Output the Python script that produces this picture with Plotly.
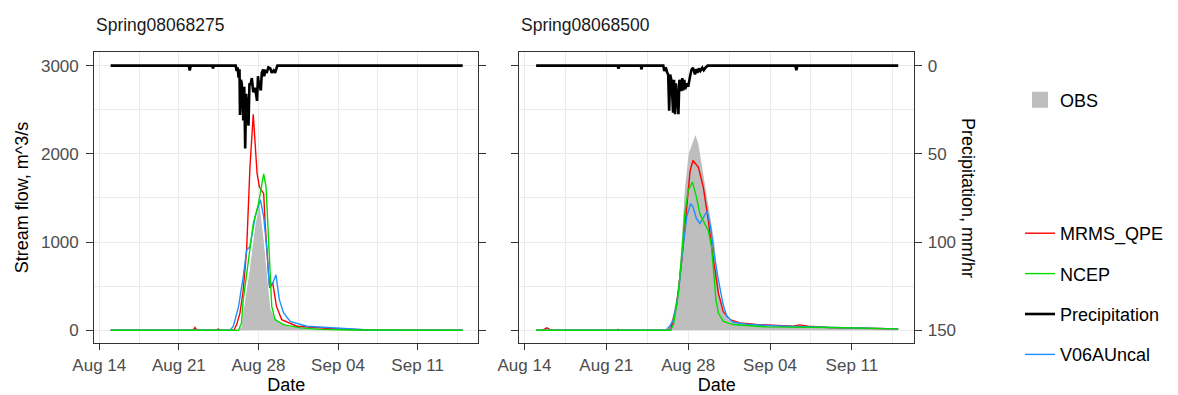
import plotly.graph_objects as go

# ---------------- data: left panel (Spring08068275) ----------------
l_obs_t = ["2017-08-15 00:00", "2017-08-26 06:00", "2017-08-26 12:00", "2017-08-26 16:00", "2017-08-27 06:00",
           "2017-08-27 17:00", "2017-08-28 02:00", "2017-08-28 11:00", "2017-08-28 18:00", "2017-08-29 01:00",
           "2017-08-29 08:00", "2017-08-29 22:00", "2017-08-30 19:00", "2017-09-01 12:00", "2017-09-03 00:00",
           "2017-09-06 00:00", "2017-09-14 23:00"]
l_obs_q = [0, 0, 30, 196, 700, 1172, 1430, 1022, 620, 250, 158, 83, 40, 20, 10, 4, 0]

l_mrms_t = ["2017-08-15 00:00", "2017-08-22 06:00", "2017-08-22 10:00", "2017-08-22 14:00", "2017-08-24 07:00",
            "2017-08-24 11:00", "2017-08-24 15:00", "2017-08-25 20:00", "2017-08-26 02:00", "2017-08-26 09:00",
            "2017-08-26 16:00", "2017-08-26 23:00", "2017-08-27 06:00", "2017-08-27 13:00", "2017-08-27 21:00",
            "2017-08-28 02:00", "2017-08-28 11:00", "2017-08-28 14:00", "2017-08-28 21:00", "2017-08-29 00:00",
            "2017-08-29 06:00", "2017-08-29 14:00", "2017-08-30 01:00", "2017-08-31 09:00", "2017-09-03 07:00",
            "2017-09-05 16:00", "2017-09-07 00:00", "2017-09-14 23:00"]
l_mrms_q = [0, 0, 30, 0, 0, 12, 0, 0, 64, 196, 459, 910, 1848, 2450, 1780, 1623, 1548, 1213, 650, 480, 540,
            270, 120, 45, 20, 8, 0, 0]

l_ncep_t = ["2017-08-15 00:00", "2017-08-26 06:00", "2017-08-26 12:00", "2017-08-26 16:00", "2017-08-27 03:00",
            "2017-08-27 13:00", "2017-08-28 00:00", "2017-08-28 11:00", "2017-08-28 16:00", "2017-08-28 21:00",
            "2017-08-29 01:00", "2017-08-29 04:00", "2017-08-29 11:00", "2017-08-30 05:00", "2017-08-31 16:00",
            "2017-09-02 10:00", "2017-09-05 00:00", "2017-09-14 23:00"]
l_ncep_q = [0, 0, 80, 347, 797, 1210, 1436, 1774, 1623, 1098, 647, 270, 120, 64, 27, 10, 3, 0]

l_v06_t = ["2017-08-15 00:00", "2017-08-25 12:00", "2017-08-25 19:00", "2017-08-26 06:00", "2017-08-26 16:00",
           "2017-08-26 23:00", "2017-08-27 06:00", "2017-08-27 17:00", "2017-08-28 04:00", "2017-08-28 11:00",
           "2017-08-28 18:00", "2017-08-28 23:00", "2017-08-29 06:00", "2017-08-29 13:00", "2017-08-29 20:00",
           "2017-08-30 05:00", "2017-08-30 19:00", "2017-09-01 06:00", "2017-09-06 00:00", "2017-09-07 00:00",
           "2017-09-14 23:00"]
l_v06_q = [0, 0, 45, 270, 610, 910, 947, 1285, 1480, 1285, 910, 496, 534, 628, 346, 196, 101, 45, 8, 0, 0]

l_prec_t = ["2017-08-15 00:00", "2017-08-21 21:00", "2017-08-21 23:00", "2017-08-22 01:00", "2017-08-23 22:00",
            "2017-08-24 00:00", "2017-08-24 02:00", "2017-08-26 00:00", "2017-08-26 02:00", "2017-08-26 04:00",
            "2017-08-26 06:00", "2017-08-26 08:00", "2017-08-26 09:00", "2017-08-26 11:00", "2017-08-26 13:00",
            "2017-08-26 16:00", "2017-08-26 18:00", "2017-08-26 20:00", "2017-08-26 22:00", "2017-08-27 03:00",
            "2017-08-27 05:00", "2017-08-27 07:00", "2017-08-27 10:00", "2017-08-27 13:00", "2017-08-27 17:00",
            "2017-08-27 21:00", "2017-08-27 23:00", "2017-08-28 00:00", "2017-08-28 05:00", "2017-08-28 07:00",
            "2017-08-28 10:00", "2017-08-28 12:00", "2017-08-28 15:00", "2017-08-28 18:00", "2017-08-28 21:00",
            "2017-08-29 01:00", "2017-08-29 04:00", "2017-08-29 08:00", "2017-08-29 11:00", "2017-08-29 14:00",
            "2017-08-29 16:00", "2017-09-14 23:00"]
l_prec_mm = [0, 0, 2.7, 0, 0, 1.5, 0, 0, 3, 1, 6.8, 2, 28, 8, 10.6, 31, 12, 47, 16, 34, 10, 11, 7, 15, 12.5,
             20, 6, 8.7, 14, 4, 2.2, 6, 3, 3.5, 1, 1.6, 4, 2.7, 4, 1, 0, 0]

# ---------------- data: right panel (Spring08068500) ----------------
r_obs_t = ["2017-08-15 00:00", "2017-08-26 00:00", "2017-08-26 07:00", "2017-08-26 10:00", "2017-08-26 18:00",
           "2017-08-27 04:00", "2017-08-27 11:00", "2017-08-27 17:00", "2017-08-28 01:00", "2017-08-28 10:00",
           "2017-08-28 15:00", "2017-08-28 21:00", "2017-08-29 05:00", "2017-08-29 12:00", "2017-08-29 20:00",
           "2017-08-30 03:00", "2017-08-30 06:00", "2017-08-30 10:00", "2017-08-30 16:00", "2017-08-30 23:00",
           "2017-08-31 10:00", "2017-08-31 20:00", "2017-09-02 06:00", "2017-09-03 17:00", "2017-09-06 13:00",
           "2017-09-09 09:00", "2017-09-12 06:00", "2017-09-14 23:00"]
r_obs_q = [0, 0, 53, 30, 195, 496, 1022, 1585, 2000, 2150, 2213, 2111, 1848, 1585, 1322, 1097, 984, 721, 421,
           233, 120, 83, 64, 53, 38, 30, 23, 15]

r_mrms_t = ["2017-08-15 00:00", "2017-08-15 14:00", "2017-08-15 22:00", "2017-08-16 06:00", "2017-08-21 22:00",
            "2017-08-22 00:00", "2017-08-22 02:00", "2017-08-26 12:00", "2017-08-26 14:00", "2017-08-27 00:00",
            "2017-08-27 11:00", "2017-08-27 21:00", "2017-08-28 04:00", "2017-08-28 10:00", "2017-08-28 21:00",
            "2017-08-29 07:00", "2017-08-29 17:00", "2017-08-30 03:00", "2017-08-30 14:00", "2017-08-31 00:00",
            "2017-08-31 14:00", "2017-09-01 10:00", "2017-09-02 20:00", "2017-09-06 00:00", "2017-09-06 12:00",
            "2017-09-07 06:00", "2017-09-09 00:00", "2017-09-12 00:00", "2017-09-14 23:00"]
r_mrms_q = [0, 0, 26, 0, 0, 10, 0, 0, 45, 270, 797, 1436, 1811, 1924, 1848, 1623, 1260, 830, 420, 210, 120,
            83, 64, 45, 60, 45, 30, 23, 15]

r_ncep_t = ["2017-08-15 00:00", "2017-08-26 12:00", "2017-08-26 18:00", "2017-08-27 04:00", "2017-08-27 11:00",
            "2017-08-27 17:00", "2017-08-28 00:00", "2017-08-28 09:00", "2017-08-28 17:00", "2017-08-29 00:00",
            "2017-08-29 08:00", "2017-08-29 17:00", "2017-08-30 00:00", "2017-08-30 05:00", "2017-08-30 09:00",
            "2017-08-30 14:00", "2017-08-31 00:00", "2017-08-31 20:00", "2017-09-03 17:00", "2017-09-09 09:00",
            "2017-09-14 23:00"]
r_ncep_q = [0, 0, 64, 421, 872, 1322, 1585, 1679, 1510, 1322, 1228, 1135, 947, 646, 346, 195, 101, 64, 38,
            30, 15]

r_v06_t = ["2017-08-15 00:00", "2017-08-26 06:00", "2017-08-26 07:00", "2017-08-26 18:00", "2017-08-27 04:00",
           "2017-08-27 12:00", "2017-08-27 21:00", "2017-08-28 05:00", "2017-08-28 10:00", "2017-08-28 17:00",
           "2017-08-29 00:00", "2017-08-29 08:00", "2017-08-29 15:00", "2017-08-29 22:00", "2017-08-30 05:00",
           "2017-08-30 14:00", "2017-08-30 23:00", "2017-08-31 07:00", "2017-08-31 20:00", "2017-09-02 06:00",
           "2017-09-05 10:00", "2017-09-09 09:00", "2017-09-12 06:00", "2017-09-14 23:00"]
r_v06_q = [0, 0, 15, 120, 421, 872, 1285, 1435, 1398, 1266, 1210, 1285, 1352, 1172, 872, 571, 308, 158, 90,
           64, 45, 30, 26, 15]

r_prec_t = ["2017-08-15 00:00", "2017-08-21 23:00", "2017-08-22 01:00", "2017-08-22 03:00", "2017-08-23 23:00",
            "2017-08-24 00:00", "2017-08-24 02:00", "2017-08-25 21:00", "2017-08-25 23:00", "2017-08-26 02:00",
            "2017-08-26 05:00", "2017-08-26 07:00", "2017-08-26 09:00", "2017-08-26 11:00", "2017-08-26 14:00",
            "2017-08-26 17:00", "2017-08-26 19:00", "2017-08-26 21:00", "2017-08-26 23:00", "2017-08-27 01:00",
            "2017-08-27 04:00", "2017-08-27 06:00", "2017-08-27 10:00", "2017-08-27 12:00", "2017-08-27 14:00",
            "2017-08-27 16:00", "2017-08-27 18:00", "2017-08-27 21:00", "2017-08-28 00:00", "2017-08-28 04:00",
            "2017-08-28 07:00", "2017-08-28 10:00", "2017-08-28 14:00", "2017-08-28 16:00", "2017-08-28 19:00",
            "2017-08-28 22:00", "2017-08-29 01:00", "2017-08-29 05:00", "2017-08-29 08:00", "2017-08-29 12:00",
            "2017-08-29 16:00", "2017-09-06 04:00", "2017-09-06 06:00", "2017-09-06 08:00", "2017-09-14 23:00"]
r_prec_mm = [0, 0, 1.6, 0, 0, 2.1, 0, 0, 3, 1, 4, 5, 25.6, 5, 8.7, 26.6, 8, 27.5, 10, 20, 27.5, 8, 14.4, 7,
             14, 8, 13.4, 10, 12, 5.9, 2.2, 1.2, 5, 2, 4, 1.5, 3, 1.2, 2.5, 1, 0, 0, 2.6, 0, 0]

# ---------------- styling ----------------
series_names = ["MRMS_QPE", "NCEP", "Precipitation", "V06AUncal"]
series_colors = {"MRMS_QPE": "#FF0000", "NCEP": "#00DD00", "Precipitation": "#000000", "V06AUncal": "#1E90FF"}
OBS_COLOR = "#BEBEBE"
FONT = "Liberation Sans, Arial, sans-serif"
TICK_GREY = "#4D4D4D"
BORDER = "#333333"
GRID = "#EBEBEB"

W, H = 1178, 395
FLOW_RANGE = [-145, 3155]
# precipitation axis: 0 mm/hr at flow 3000, 150 mm/hr at flow 0 (reversed)
PREC_RANGE = [(3000 - FLOW_RANGE[0]) / 20.0, (3000 - FLOW_RANGE[1]) / 20.0]
X_RANGE = ["2017-08-13 13:30", "2017-09-16 08:00"]

# panel placement (pixels)
LEFT_PANEL = (94.3, 478.3)
RIGHT_PANEL = (519.3, 914.3)
PANEL_TOP, PANEL_BOTTOM = 52, 343
YDOM = [(H - PANEL_BOTTOM) / H, (H - PANEL_TOP) / H]

fig = go.Figure()

panels = [
    dict(xa="x", ya="y", pa="y2", obs=(l_obs_t, l_obs_q), mrms=(l_mrms_t, l_mrms_q), ncep=(l_ncep_t, l_ncep_q),
         v06=(l_v06_t, l_v06_q), prec=(l_prec_t, l_prec_mm), legend=True),
    dict(xa="x2", ya="y3", pa="y4", obs=(r_obs_t, r_obs_q), mrms=(r_mrms_t, r_mrms_q), ncep=(r_ncep_t, r_ncep_q),
         v06=(r_v06_t, r_v06_q), prec=(r_prec_t, r_prec_mm), legend=False),
]

for p in panels:
    fig.add_trace(go.Scatter(x=p["obs"][0], y=p["obs"][1], xaxis=p["xa"], yaxis=p["ya"], mode="lines",
                             line=dict(width=0, color=OBS_COLOR),
                             fill="tozeroy", fillcolor=OBS_COLOR, name="OBS", showlegend=False))
    for key, nm in [("mrms", "MRMS_QPE"), ("v06", "V06AUncal"), ("ncep", "NCEP")]:
        fig.add_trace(go.Scatter(x=p[key][0], y=p[key][1], xaxis=p["xa"], yaxis=p["ya"], mode="lines",
                                 line=dict(width=1.4, color=series_colors[nm]),
                                 name=nm, legend="legend2", legendgroup=nm, legendrank=series_names.index(nm),
                                 showlegend=p["legend"]))
    fig.add_trace(go.Scatter(x=p["prec"][0], y=p["prec"][1], xaxis=p["xa"], yaxis=p["pa"], mode="lines",
                             line=dict(width=2.6, color=series_colors["Precipitation"]),
                             name="Precipitation", legend="legend2", legendgroup="Precipitation",
                             legendrank=series_names.index("Precipitation"), showlegend=p["legend"]))

# legend key for the observed area
fig.add_trace(go.Scatter(x=[None], y=[None], mode="markers", xaxis="x", yaxis="y",
                         marker=dict(symbol="square", size=16, color=OBS_COLOR), name="OBS", legend="legend"))

tickfont = dict(family=FONT, size=17, color=TICK_GREY)
titlefont = dict(family=FONT, size=18, color="black")

xcommon = dict(type="date", range=X_RANGE, tick0="2017-08-14", dtick=7 * 86400000, tickformat="%b %d",
               ticks="outside", ticklen=6, tickwidth=1.3, tickcolor=BORDER, showline=True, linewidth=1.3,
               linecolor=BORDER, mirror=True, showgrid=True, gridcolor=GRID, gridwidth=1.4, zeroline=False,
               minor=dict(tick0="2017-08-14", dtick=3.5 * 86400000, showgrid=True, gridcolor=GRID, gridwidth=0.7),
               automargin=False,
               tickfont=tickfont, title=dict(text="Date", font=titlefont, standoff=3))
ycommon = dict(range=FLOW_RANGE, tick0=0, dtick=1000, ticks="outside", ticklen=7, tickwidth=1.3,
               tickcolor=BORDER, showline=True, linewidth=1.3, linecolor=BORDER, showgrid=True,
               gridcolor=GRID, gridwidth=1.4, zeroline=False, domain=YDOM, automargin=False,
               minor=dict(dtick=500, showgrid=True, gridcolor=GRID, gridwidth=0.7), tickfont=tickfont)
pcommon = dict(range=PREC_RANGE, tickvals=[0, 50, 100, 150], side="right", showgrid=False, zeroline=False,
               ticklen=7, tickwidth=1.3, tickcolor=BORDER, ticklabelstandoff=2, tickfont=tickfont,
               automargin=False)

fig.update_layout(
    width=W, height=H,
    margin=dict(l=0, r=0, t=0, b=0),
    paper_bgcolor="white", plot_bgcolor="white",
    font=dict(family=FONT, size=17, color="black"),
    xaxis=dict(domain=[LEFT_PANEL[0] / W, LEFT_PANEL[1] / W], anchor="y", **xcommon),
    xaxis2=dict(domain=[RIGHT_PANEL[0] / W, RIGHT_PANEL[1] / W], anchor="y3", **xcommon),
    yaxis=dict(anchor="x", showticklabels=True, mirror="ticks", ticklabelstandoff=4,
               title=dict(text="Stream flow, m^3/s", font=titlefont, standoff=7), **ycommon),
    yaxis2=dict(overlaying="y", anchor="x", showticklabels=False, ticks="", **pcommon),
    yaxis3=dict(anchor="x2", showticklabels=False, mirror=True, **ycommon),
    yaxis4=dict(overlaying="y3", anchor="x2", showticklabels=True, ticks="outside", **pcommon),
    legend=dict(x=1020 / W, y=1 - 100 / H, xanchor="left", yanchor="middle", bgcolor="rgba(0,0,0,0)",
                font=dict(family=FONT, size=18, color="black"), itemsizing="trace"),
    legend2=dict(x=1020 / W, y=1 - 294 / H, xanchor="left", yanchor="middle", bgcolor="rgba(0,0,0,0)",
                 font=dict(family=FONT, size=18, color="black"), tracegroupgap=14, traceorder="grouped"),
    annotations=[
        dict(text="Spring08068275", xref="x domain", yref="paper", x=0, y=1 - 25 / H, xanchor="left",
             yanchor="middle", showarrow=False, font=dict(family=FONT, size=17.5, color="#1A1A1A")),
        dict(text="Spring08068500", xref="x2 domain", yref="paper", x=0, y=1 - 25 / H, xanchor="left",
             yanchor="middle", showarrow=False, font=dict(family=FONT, size=17.5, color="#1A1A1A")),
        dict(text="Precipitation, mm/hr", xref="paper", yref="paper", x=968 / W, y=1 - 198 / H, textangle=90,
             xanchor="center", yanchor="middle", showarrow=False, font=titlefont),
    ],
)

fig.write_html("out.html")
